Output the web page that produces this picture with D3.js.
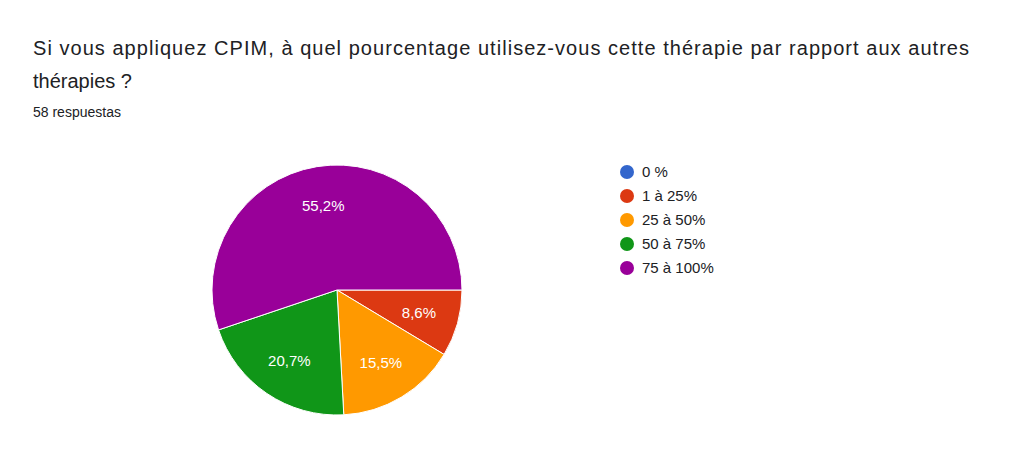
<!DOCTYPE html>
<html><head><meta charset="utf-8">
<script src="https://cdn.jsdelivr.net/npm/d3@7"></script>
<style>body{margin:0;background:#fff;font-family:"Liberation Sans",Arial,sans-serif}</style>
</head><body><div id="chart"></div>
<script>
const categories = ["0 %", "1 à 25%", "25 à 50%", "50 à 75%", "75 à 100%"];
const counts = [0, 5, 9, 12, 32];
const labels = ["0 %", "8,6%", "15,5%", "20,7%", "55,2%"];
const colors = ["#3366cc", "#dc3912", "#ff9900", "#109618", "#990099"];

const svg = d3.select("#chart").append("svg").attr("width", 1024).attr("height", 466);
svg.append("text").attr("x", 33).attr("y", 55).attr("font-size", 20).attr("fill", "#202124")
    .attr("textLength", 936)
    .text("Si vous appliquez CPIM, à quel pourcentage utilisez-vous cette thérapie par rapport aux autres");
svg.append("text").attr("x", 33).attr("y", 88).attr("font-size", 20).attr("fill", "#202124")
    .text("thérapies ?");
svg.append("text").attr("x", 33).attr("y", 117).attr("font-size", 14).attr("fill", "#202124")
    .text("58 respuestas");

// pie starts at 3 o'clock, clockwise
const pie = d3.pie().sort(null).startAngle(Math.PI / 2).endAngle(Math.PI / 2 + 2 * Math.PI);
const arcs = pie(counts);
const r = 125;
const arc = d3.arc().innerRadius(0).outerRadius(r);
const labelArc = d3.arc().innerRadius(r * 0.68).outerRadius(r * 0.68);
const g = svg.append("g").attr("transform", "translate(337,290)");
g.selectAll("path").data(arcs).join("path")
    .attr("d", arc).attr("fill", (d, i) => colors[i])
    .attr("stroke", "#fff").attr("stroke-width", 1);
g.selectAll("text").data(arcs.filter(d => d.value > 0)).join("text")
    .attr("transform", d => `translate(${labelArc.centroid(d)})`)
    .attr("text-anchor", "middle").attr("dy", "0.35em")
    .attr("fill", "#fff").attr("font-size", 15)
    .text(d => labels[d.index]);

const legend = svg.append("g").attr("transform", "translate(627,172)");
const items = legend.selectAll("g").data(categories).join("g")
    .attr("transform", (d, i) => `translate(0,${i * 24})`);
items.append("circle").attr("r", 7).attr("fill", (d, i) => colors[i]);
items.append("text").attr("x", 15).attr("dy", "0.35em").attr("font-size", 15)
    .attr("fill", "#202124").text(d => d);
</script></body></html>
